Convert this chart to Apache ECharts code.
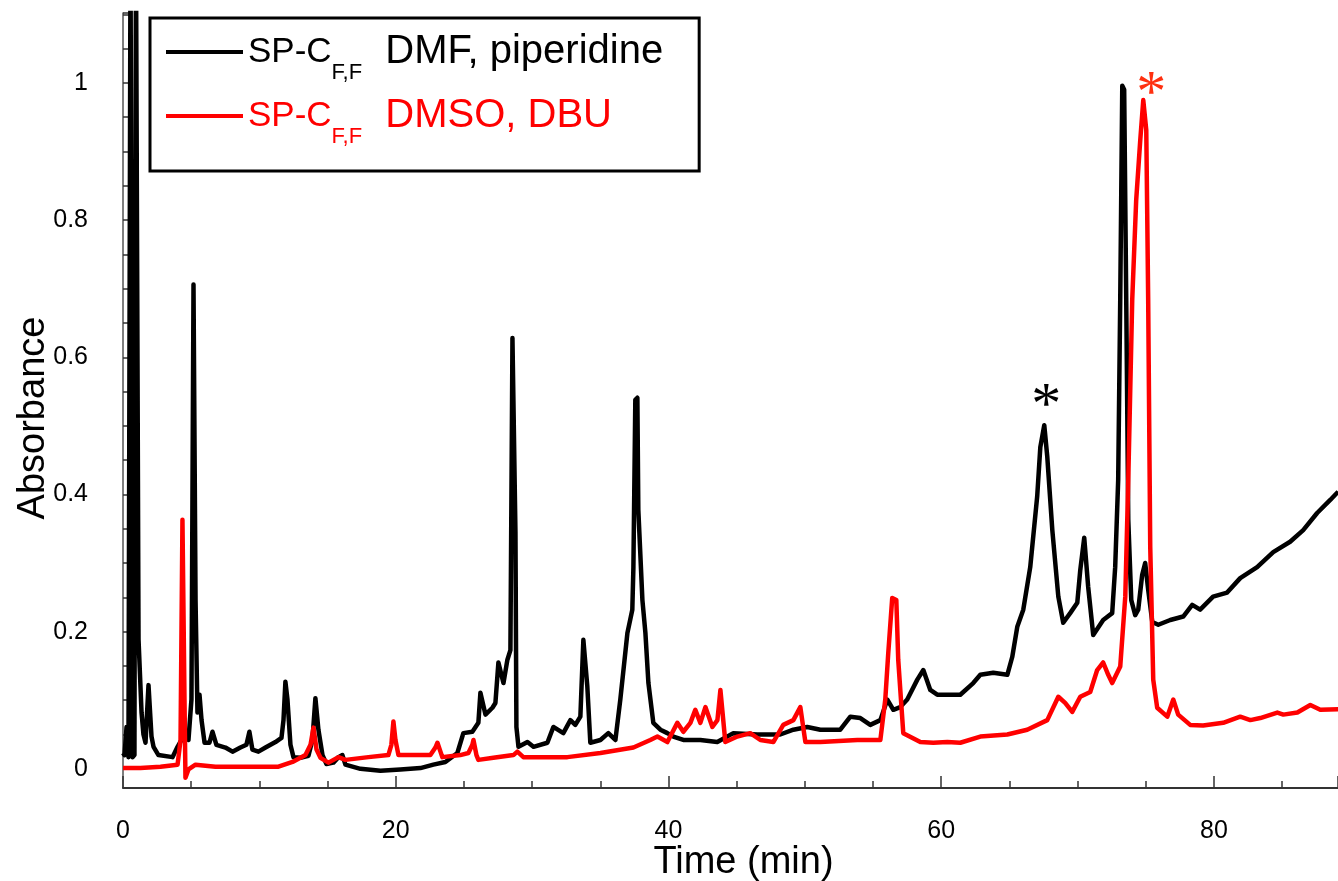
<!DOCTYPE html>
<html>
<head>
<meta charset="utf-8">
<script src="https://cdn.jsdelivr.net/npm/echarts@6/dist/echarts.min.js"></script>
<style>
  html, body { margin: 0; padding: 0; background: #fff; }
  #chart { width: 1338px; height: 881px; }
</style>
</head>
<body>
<div id="chart"></div>
<script>
// ---- Data ----
const seriesNames = ['SP-C_F,F DMF, piperidine', 'SP-C_F,F DMSO, DBU'];

const blackTime = [0, 0.11, 0.26, 0.40, 0.55, 0.70, 0.84, 0.95, 1.14, 1.36, 1.50, 1.65, 1.87, 2.09, 2.24, 2.60, 3.63, 4.00, 4.29, 4.51, 4.80, 5.02, 5.17, 5.32, 5.46, 5.61, 5.76, 5.98, 6.34, 6.56, 6.85, 7.51, 8.03, 8.61, 9.05, 9.27, 9.49, 9.93, 10.45, 11.18, 11.62, 11.77, 11.91, 12.06, 12.28, 12.50, 13.01, 13.60, 13.89, 14.11, 14.33, 14.63, 14.92, 15.43, 15.80, 16.09, 16.31, 17.41, 18.88, 20.34, 21.81, 22.76, 23.64, 24.52, 24.96, 25.62, 26.06, 26.21, 26.58, 27.09, 27.31, 27.53, 27.90, 28.19, 28.41, 28.56, 28.78, 28.85, 29.00, 29.66, 30.10, 31.12, 31.56, 32.29, 32.81, 33.17, 33.54, 33.76, 34.05, 34.27, 35.01, 35.59, 36.11, 36.47, 36.99, 37.35, 37.43, 37.57, 37.72, 37.79, 38.09, 38.31, 38.53, 38.89, 39.41, 39.92, 40.36, 41.09, 42.34, 43.58, 44.76, 46.52, 48.20, 49.16, 50.18, 51.14, 52.60, 53.34, 54.07, 54.80, 55.54, 56.05, 56.49, 57.00, 57.51, 58.25, 58.69, 59.20, 59.71, 61.40, 62.35, 62.87, 63.82, 64.85, 65.21, 65.58, 66.02, 66.53, 67.04, 67.27, 67.56, 67.78, 68.15, 68.59, 68.95, 69.46, 69.98, 70.20, 70.49, 70.78, 71.15, 71.88, 72.54, 72.76, 72.98, 73.13, 73.28, 73.42, 73.57, 73.72, 73.94, 74.23, 74.45, 74.74, 74.96, 75.18, 75.48, 75.92, 76.80, 77.75, 78.41, 78.99, 79.94, 80.97, 81.93, 83.17, 84.35, 85.59, 86.55, 87.57, 88.53, 89.11];
const blackAbs = [0.023, 0.020, 0.061, 0.017, 1.2, 0.017, 0.020, 1.2, 0.188, 0.082, 0.050, 0.038, 0.122, 0.047, 0.032, 0.020, 0.017, 0.032, 0.042, 0.050, 0.042, 0.101, 0.706, 0.246, 0.082, 0.108, 0.071, 0.038, 0.038, 0.054, 0.035, 0.031, 0.025, 0.031, 0.035, 0.054, 0.028, 0.025, 0.031, 0.039, 0.045, 0.071, 0.127, 0.101, 0.035, 0.017, 0.016, 0.019, 0.042, 0.103, 0.057, 0.020, 0.007, 0.009, 0.017, 0.020, 0.006, 0.000, -0.003, -0.001, 0.001, 0.006, 0.010, 0.023, 0.052, 0.054, 0.067, 0.111, 0.079, 0.089, 0.096, 0.155, 0.125, 0.159, 0.173, 0.628, 0.344, 0.061, 0.032, 0.039, 0.032, 0.038, 0.061, 0.052, 0.071, 0.064, 0.076, 0.188, 0.120, 0.038, 0.042, 0.052, 0.042, 0.101, 0.198, 0.232, 0.294, 0.538, 0.541, 0.378, 0.246, 0.198, 0.125, 0.067, 0.057, 0.052, 0.047, 0.042, 0.042, 0.039, 0.052, 0.050, 0.050, 0.057, 0.061, 0.057, 0.057, 0.076, 0.074, 0.064, 0.071, 0.101, 0.086, 0.090, 0.101, 0.130, 0.144, 0.115, 0.108, 0.108, 0.125, 0.137, 0.140, 0.137, 0.163, 0.207, 0.232, 0.294, 0.397, 0.469, 0.501, 0.455, 0.348, 0.251, 0.213, 0.227, 0.242, 0.290, 0.337, 0.265, 0.195, 0.217, 0.227, 0.294, 0.421, 0.684, 0.996, 0.990, 0.684, 0.363, 0.246, 0.224, 0.232, 0.283, 0.300, 0.261, 0.214, 0.210, 0.217, 0.222, 0.239, 0.232, 0.251, 0.257, 0.278, 0.294, 0.316, 0.331, 0.348, 0.373, 0.392, 0.404];

const redTime = [0, 1.28, 2.75, 4.00, 4.22, 4.36, 4.51, 4.58, 4.80, 5.32, 6.78, 9.35, 11.40, 12.43, 13.38, 13.75, 13.97, 14.19, 14.48, 15.07, 15.80, 16.31, 18.00, 19.46, 19.68, 19.83, 19.98, 20.20, 21.44, 22.54, 22.91, 23.06, 23.28, 23.42, 24.74, 25.33, 25.62, 25.70, 25.92, 26.06, 27.16, 28.63, 28.92, 29.36, 30.61, 32.59, 35.01, 37.43, 38.67, 39.19, 39.92, 40.65, 41.09, 41.61, 41.97, 42.34, 42.71, 43.22, 43.59, 43.81, 44.17, 45.05, 46.00, 46.74, 47.69, 48.42, 49.16, 49.67, 50.04, 51.14, 53.85, 55.54, 55.90, 56.12, 56.41, 56.71, 56.85, 57.22, 58.47, 59.42, 60.45, 61.40, 62.87, 64.85, 66.31, 67.78, 68.59, 69.09, 69.61, 70.20, 70.93, 71.44, 71.88, 72.25, 72.54, 73.13, 73.50, 73.72, 74.01, 74.30, 74.60, 74.82, 75.04, 75.18, 75.33, 75.55, 75.84, 76.58, 77.02, 77.38, 78.26, 79.21, 80.68, 81.93, 82.67, 83.40, 84.65, 85.09, 86.12, 87.07, 87.80, 89.11];
const redAbs = [0.001, 0.001, 0.003, 0.006, 0.042, 0.363, 0.101, -0.013, -0.001, 0.006, 0.003, 0.003, 0.003, 0.010, 0.020, 0.035, 0.060, 0.028, 0.016, 0.009, 0.017, 0.013, 0.017, 0.020, 0.035, 0.069, 0.042, 0.020, 0.020, 0.020, 0.031, 0.038, 0.025, 0.017, 0.020, 0.023, 0.035, 0.042, 0.020, 0.013, 0.016, 0.020, 0.025, 0.017, 0.017, 0.017, 0.023, 0.031, 0.042, 0.047, 0.039, 0.067, 0.054, 0.067, 0.086, 0.067, 0.090, 0.061, 0.071, 0.115, 0.039, 0.047, 0.052, 0.042, 0.039, 0.064, 0.071, 0.090, 0.039, 0.039, 0.042, 0.042, 0.101, 0.169, 0.249, 0.246, 0.159, 0.052, 0.039, 0.038, 0.039, 0.038, 0.047, 0.050, 0.057, 0.071, 0.105, 0.096, 0.083, 0.105, 0.112, 0.144, 0.155, 0.137, 0.125, 0.149, 0.251, 0.421, 0.684, 0.829, 0.917, 0.975, 0.931, 0.684, 0.324, 0.130, 0.089, 0.076, 0.101, 0.079, 0.064, 0.063, 0.067, 0.076, 0.071, 0.074, 0.082, 0.079, 0.082, 0.093, 0.086, 0.087];

// asterisk annotations: [time, absorbance]
const blackStar = [67.7, 0.527];
const redStar = [75.4, 0.982];

const xName = 'Time (min)';
const yName = 'Absorbance';

// ---- Build ----
const FONT = '"Liberation Sans", Arial, Helvetica, sans-serif';
const SERIF = '"Liberation Serif", "Times New Roman", serif';
const zip = (a, b) => a.map((t, i) => [t, b[i]]);

const chart = echarts.init(document.getElementById('chart'), null, { renderer: 'canvas' });

const starLabel = (color) => ({
  show: true, formatter: '*', position: 'inside',
  fontSize: 60, color: color, fontFamily: SERIF
});

const mainTok = (color) => ({ fontSize: 35, color: color, lineHeight: 40, verticalAlign: 'middle', fontFamily: FONT });
const restTok = (color) => ({ fontSize: 40, color: color, lineHeight: 40, verticalAlign: 'middle', padding: [0, 0, 0, 12], fontFamily: FONT });
const subTok = (color) => ({ fontSize: 22, color: color, verticalAlign: 'bottom', padding: [42, 0, 0, 0], fontFamily: FONT });

chart.setOption({
  animation: false,
  backgroundColor: '#fff',
  grid: { left: 123, right: 0, top: 13, bottom: 93, containLabel: false, outerBoundsMode: 'none' },
  legend: {
    orient: 'vertical',
    left: 150, top: 18,
    padding: [14, 36, 23, 16],
    borderColor: '#000', borderWidth: 3,
    itemWidth: 77, itemHeight: 4, itemGap: 12,
    icon: 'rect',
    data: seriesNames,
    formatter: function (name) {
      const parts = name.split(' ');
      const head = parts[0].split('_');
      const rest = ' ' + parts.slice(1).join(' ');
      const k = name === seriesNames[0] ? 'k' : 'r';
      return '{' + k + '|' + head[0] + '}{' + k + 's|' + head[1] + '}{' + k + 'r|' + rest + '}';
    },
    textStyle: {
      fontFamily: FONT,
      rich: {
        k: mainTok('#000'), ks: subTok('#000'), kr: restTok('#000'),
        r: mainTok('#ff0000'), rs: subTok('#ff0000'), rr: restTok('#ff0000')
      }
    }
  },
  xAxis: {
    type: 'value',
    min: 0, max: 89.1,
    name: xName,
    nameLocation: 'middle',
    nameGap: 56,
    nameMoveOverlap: false,
    nameTextStyle: { fontSize: 38, color: '#000', fontFamily: FONT, padding: [0, 0, 0, 26] },
    axisLine: { show: true, onZero: false, lineStyle: { color: '#333', width: 2 } },
    axisTick: { show: true, inside: true, length: 12, lineStyle: { color: '#333', width: 1.5 } },
    minorTick: { show: true, splitNumber: 4, length: 7, lineStyle: { color: '#333', width: 1.5 } },
    axisLabel: { fontSize: 25, color: '#000', margin: 31, fontFamily: FONT, showMaxLabel: false },
    splitLine: { show: false }
  },
  yAxis: {
    type: 'value',
    min: -0.028, max: 1.102,
    name: yName,
    nameLocation: 'middle',
    nameGap: 70,
    nameMoveOverlap: false,
    nameTextStyle: { fontSize: 38, color: '#000', fontFamily: FONT, padding: [0, 35, 0, 0] },
    axisLine: { show: true, onZero: false, lineStyle: { color: '#555', width: 1.5 } },
    axisTick: { show: true, inside: true, length: 7, lineStyle: { color: '#333', width: 1.5 } },
    minorTick: { show: true, splitNumber: 4, length: 7, lineStyle: { color: '#333', width: 1.5 } },
    axisLabel: { fontSize: 25, color: '#000', margin: 35, fontFamily: FONT, showMinLabel: false, showMaxLabel: false },
    splitLine: { show: false }
  },
  series: [
    {
      name: seriesNames[0],
      type: 'line',
      data: zip(blackTime, blackAbs),
      showSymbol: false, symbol: 'none',
      color: '#000',
      lineStyle: { color: '#000', width: 4.5, join: 'round' },
      clip: true,
      markPoint: {
        symbol: 'circle', symbolSize: 1,
        itemStyle: { color: 'rgba(0,0,0,0)' },
        label: starLabel('#000'),
        data: [{ coord: blackStar }]
      }
    },
    {
      name: seriesNames[1],
      type: 'line',
      data: zip(redTime, redAbs),
      showSymbol: false, symbol: 'none',
      color: '#ff0000',
      lineStyle: { color: '#ff0000', width: 4.5, join: 'round' },
      clip: true,
      markPoint: {
        symbol: 'circle', symbolSize: 1,
        itemStyle: { color: 'rgba(0,0,0,0)' },
        label: starLabel('#ff3010'),
        data: [{ coord: redStar }]
      }
    }
  ]
});
</script>
</body>
</html>
